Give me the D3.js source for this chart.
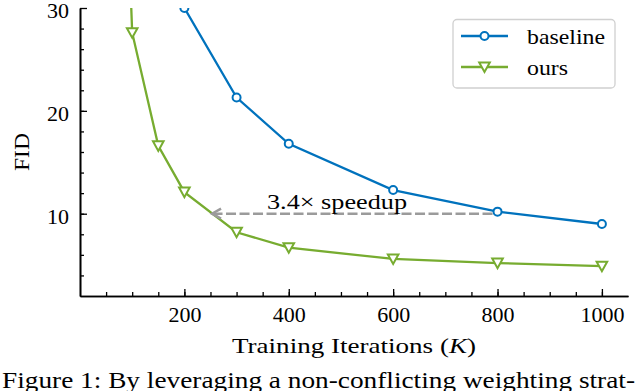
<!DOCTYPE html>
<html>
<head>
<meta charset="utf-8">
<script src="https://cdn.jsdelivr.net/npm/d3@7"></script>
<style>
  body { margin: 0; background: #fff; }
</style>
</head>
<body>
<svg width="640" height="391"></svg>
<script>
// values
let baseIters = [200, 300, 400, 600, 800, 1000]
let baseFid = [30.0, 21.3, 16.8, 12.3, 10.2, 9.0]

let oursIters = [50, 100, 150, 200, 300, 400, 600, 800, 1000]
let oursFid = [95, 27.6, 16.6, 12.1, 8.2, 6.7, 5.6, 5.2, 4.9]

let xTicks = [200, 400, 600, 800, 1000]
let yTicks = [10, 20, 30]
let seriesNames = ['baseline', 'ours']

let blue = '#0072BD'
let green = '#77AC30'
let font = 'Liberation Serif'

let plotLeft = 80, plotRight = 628, plotTop = 8, plotBottom = 296

let svg = d3.select('svg')

let xScale = d3.scaleLinear().domain([0, 1050]).range([plotLeft, plotRight])
let yScale = d3.scaleLinear().domain([2, 30]).range([plotBottom, plotTop])

let base = baseIters.map((d, i) => ({ x: d, y: baseFid[i] }))
let ours = oursIters.map((d, i) => ({ x: d, y: oursFid[i] }))

// clip for the plot area
svg.append('clipPath').attr('id', 'clip')
    .append('rect')
    .attr('x', plotLeft).attr('y', plotTop)
    .attr('width', plotRight - plotLeft).attr('height', plotBottom - plotTop + 10)

// axes
let drawAxes = () => {
    let xAxis = d3.axisBottom(xScale).tickValues(xTicks).tickFormat(d3.format('d'))
        .tickSizeInner(-7).tickSizeOuter(0).tickPadding(10.5)
    let xMinor = d3.axisBottom(xScale).tickValues(d3.range(50, 1050, 50))
        .tickSizeInner(-4).tickSizeOuter(0).tickFormat('')
    let yAxis = d3.axisLeft(yScale).tickValues(yTicks).tickFormat(d3.format('d'))
        .tickSizeInner(-7).tickSizeOuter(0).tickPadding(11)
    let yMinor = d3.axisLeft(yScale).tickValues(d3.range(4, 30, 2))
        .tickSizeInner(-4).tickSizeOuter(0).tickFormat('')

    let gx = svg.append('g').attr('transform', 'translate(0,' + plotBottom + ')')
    gx.call(xMinor)
    gx.append('g').call(xAxis)
    let gy = svg.append('g').attr('transform', 'translate(' + plotLeft + ',0)')
    gy.call(yMinor)
    gy.append('g').call(yAxis)

    svg.selectAll('.domain').attr('stroke', '#000').attr('stroke-width', 1.6)
    svg.selectAll('.tick line').attr('stroke', '#000').attr('stroke-width', 1.3)
    svg.selectAll('.tick text').attr('font-size', 22).attr('font-family', font).attr('fill', '#000')
    gx.selectAll('g').attr('font-family', font)
    gy.selectAll('g').attr('font-family', font)
    gy.selectAll('.tick text').attr('dy', '0.45em')

    let xl = svg.append('text')
        .attr('x', 354).attr('y', 353)
        .attr('text-anchor', 'middle').attr('font-size', 21).attr('font-family', font)
        .attr('textLength', 244).attr('lengthAdjust', 'spacingAndGlyphs')
    xl.append('tspan').text('Training Iterations (')
    xl.append('tspan').attr('font-style', 'italic').text('K')
    xl.append('tspan').text(')')

    svg.append('text')
        .attr('transform', 'translate(29,152) rotate(-90)')
        .attr('text-anchor', 'middle').attr('font-size', 21).attr('font-family', font)
        .attr('textLength', 38).attr('lengthAdjust', 'spacingAndGlyphs')
        .text('FID')
}

// arrow
let drawArrow = () => {
    let yA = yScale(10)
    let xHead = xScale(253)
    svg.append('line')
        .attr('x1', xScale(800) - 5).attr('x2', xHead + 2)
        .attr('y1', yA).attr('y2', yA)
        .attr('stroke', '#9b9b9b').attr('stroke-width', 2.5)
        .attr('stroke-dasharray', '10,3.5')
    svg.append('path')
        .attr('d', 'M' + (xHead + 9) + ',' + (yA - 5) + 'L' + xHead + ',' + yA + 'L' + (xHead + 9) + ',' + (yA + 5))
        .attr('fill', 'none').attr('stroke', '#9b9b9b').attr('stroke-width', 2.5)
    svg.append('text')
        .attr('x', 337).attr('y', 209)
        .attr('text-anchor', 'middle').attr('font-size', 21).attr('font-family', font)
        .attr('textLength', 140).attr('lengthAdjust', 'spacingAndGlyphs')
        .text('3.4\u00d7 speedup')
}

let line = d3.line().x(d => xScale(d.x)).y(d => yScale(d.y))
let tri = (cx, cy, s) => 'M' + (cx - s) + ',' + (cy - s * 0.85) + 'L' + (cx + s) + ',' + (cy - s * 0.85) + 'L' + cx + ',' + (cy + s * 0.95) + 'Z'

let drawSeries = () => {
    let plot = svg.append('g').attr('clip-path', 'url(#clip)')
    plot.append('path').datum(base)
        .attr('d', line).attr('fill', 'none')
        .attr('stroke', blue).attr('stroke-width', 2.3)
    plot.append('path').datum(ours)
        .attr('d', line).attr('fill', 'none')
        .attr('stroke', green).attr('stroke-width', 2.3)

    plot.selectAll('.bm').data(base).enter().append('circle')
        .attr('class', 'bm')
        .attr('cx', d => xScale(d.x)).attr('cy', d => yScale(d.y))
        .attr('r', 4).attr('fill', '#fff')
        .attr('stroke', blue).attr('stroke-width', 2)
    plot.selectAll('.om').data(ours).enter().append('path')
        .attr('class', 'om')
        .attr('d', d => tri(xScale(d.x), yScale(d.y), 5.3))
        .attr('fill', '#fff')
        .attr('stroke', green).attr('stroke-width', 2)
}

let drawLegend = () => {
    let g = svg.append('g')
    g.append('rect')
        .attr('x', 453).attr('y', 19.5).attr('width', 162).attr('height', 68.5)
        .attr('rx', 4).attr('fill', '#fff')
        .attr('stroke', '#d0d0d0').attr('stroke-width', 1.3)
    let rows = [36, 67]
    let colors = [blue, green]
    seriesNames.forEach((name, i) => {
        let y = rows[i]
        g.append('line')
            .attr('x1', 461).attr('x2', 508).attr('y1', y).attr('y2', y)
            .attr('stroke', colors[i]).attr('stroke-width', 2.3)
        if (i === 0) {
            g.append('circle').attr('cx', 484.5).attr('cy', y).attr('r', 4)
                .attr('fill', '#fff').attr('stroke', blue).attr('stroke-width', 2)
        } else {
            g.append('path').attr('d', tri(484.5, y, 5.3))
                .attr('fill', '#fff').attr('stroke', green).attr('stroke-width', 2)
        }
        g.append('text')
            .attr('x', 527).attr('y', y + 8)
            .attr('font-size', 21).attr('font-family', font)
            .attr('textLength', i === 0 ? 78 : 41).attr('lengthAdjust', 'spacingAndGlyphs')
            .text(name)
    })
}

let drawCaption = () => {
    svg.append('text')
        .attr('x', 2).attr('y', 388)
        .attr('font-size', 23).attr('font-family', font)
        .attr('textLength', 633).attr('lengthAdjust', 'spacingAndGlyphs')
        .text('Figure 1: By leveraging a non-conflicting weighting strat-')
}

drawAxes()
drawSeries()
drawArrow()
drawLegend()
drawCaption()
</script>
</body>
</html>
